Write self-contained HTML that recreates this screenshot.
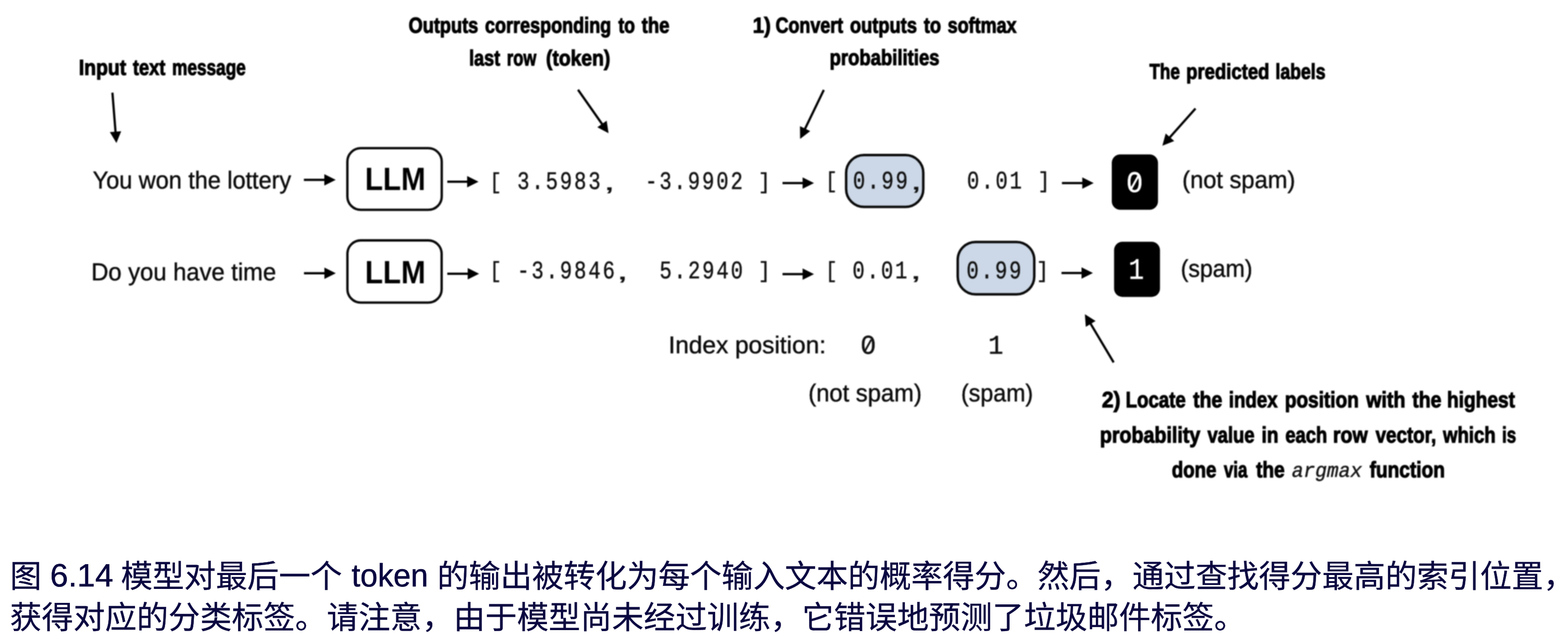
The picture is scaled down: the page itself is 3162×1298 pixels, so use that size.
<!DOCTYPE html>
<html lang="zh"><head><meta charset="utf-8"><title>Figure 6.14</title>
<style>
html,body{margin:0;padding:0;background:#fff;}
body{width:3162px;height:1298px;position:relative;overflow:hidden;color:#000;}
#fig,#cap{position:absolute;left:0;top:0;width:3162px;height:1298px;}
#fig{filter:blur(1.0px);}
#cap{filter:blur(0.45px);}
.t{position:absolute;white-space:pre;line-height:1;transform-origin:0 0;display:block;text-rendering:geometricPrecision;font-kerning:normal;}
.s{font-family:"Liberation Sans",sans-serif;color:#0c0c0c;-webkit-text-stroke:0.7px;}
.b{font-family:"Liberation Sans",sans-serif;font-weight:bold;color:#000;-webkit-text-stroke:1.6px;}
.m{font-family:"Liberation Mono",monospace;color:#111;-webkit-text-stroke:0.7px;}
.mi{font-family:"Liberation Mono",monospace;font-style:italic;}
.cap{margin:0;}
.z{font-family:"Liberation Sans","Noto Sans CJK SC",sans-serif;font-size:64px;color:#0a0740;-webkit-text-stroke:0.38px #0a0740;}
svg{position:absolute;left:0;top:0;}
</style></head><body>
<div id="fig">
<svg width="3162" height="1298" viewBox="0 0 3162 1298">
<line x1="612.8" y1="362.5" x2="656.0" y2="362.5" stroke="#000" stroke-width="4.5"/>
<polygon points="677.0,362.5 654.0,374.0 654.0,351.0" fill="#000"/>
<line x1="902.0" y1="366.2" x2="944.0" y2="366.2" stroke="#000" stroke-width="4.5"/>
<polygon points="965.0,366.2 942.0,377.7 942.0,354.7" fill="#000"/>
<line x1="1578.0" y1="369.1" x2="1620.5" y2="369.1" stroke="#000" stroke-width="4.5"/>
<polygon points="1641.5,369.1 1618.5,380.6 1618.5,357.6" fill="#000"/>
<line x1="2141.5" y1="369.1" x2="2184.5" y2="369.1" stroke="#000" stroke-width="4.5"/>
<polygon points="2205.5,369.1 2182.5,380.6 2182.5,357.6" fill="#000"/>
<line x1="613.0" y1="550.8" x2="656.2" y2="550.8" stroke="#000" stroke-width="4.5"/>
<polygon points="677.2,550.8 654.2,562.3 654.2,539.3" fill="#000"/>
<line x1="902.0" y1="551.8" x2="945.2" y2="551.8" stroke="#000" stroke-width="4.5"/>
<polygon points="966.2,551.8 943.2,563.3 943.2,540.3" fill="#000"/>
<line x1="1578.0" y1="552.4" x2="1620.5" y2="552.4" stroke="#000" stroke-width="4.5"/>
<polygon points="1641.5,552.4 1618.5,563.9 1618.5,540.9" fill="#000"/>
<line x1="2140.6" y1="550.3" x2="2183.0" y2="550.3" stroke="#000" stroke-width="4.5"/>
<polygon points="2204.0,550.3 2181.0,561.8 2181.0,538.8" fill="#000"/>
<line x1="226.7" y1="186.8" x2="233.1" y2="267.4" stroke="#000" stroke-width="4.5"/>
<polygon points="234.8,288.3 221.5,266.3 244.4,264.5" fill="#000"/>
<line x1="1165.6" y1="180.9" x2="1215.1" y2="251.4" stroke="#000" stroke-width="4.5"/>
<polygon points="1227.2,268.6 1204.6,256.4 1223.4,243.2" fill="#000"/>
<line x1="1661.3" y1="181.3" x2="1622.7" y2="261.1" stroke="#000" stroke-width="4.5"/>
<polygon points="1613.5,280.0 1613.2,254.3 1633.9,264.3" fill="#000"/>
<line x1="2410.8" y1="218.8" x2="2358.0" y2="278.0" stroke="#000" stroke-width="4.5"/>
<polygon points="2344.0,293.7 2350.7,268.9 2367.9,284.2" fill="#000"/>
<line x1="2245.8" y1="730.5" x2="2198.5" y2="651.2" stroke="#000" stroke-width="4.5"/>
<polygon points="2187.7,633.2 2209.4,647.1 2189.6,658.8" fill="#000"/>
<rect x="700.5" y="298.7" width="190.3" height="124.2" rx="27" ry="27" fill="#fff" stroke="#0a0a0a" stroke-width="4.8"/>
<rect x="700.6" y="484.5" width="190.0" height="125.4" rx="27" ry="27" fill="#fff" stroke="#0a0a0a" stroke-width="4.8"/>
<rect x="1706.3" y="312.5" width="155.6" height="104.6" rx="36" ry="36" fill="#ccd8e7" stroke="#0a0a0a" stroke-width="5"/>
<rect x="1931.3" y="487.8" width="154.4" height="105.5" rx="36" ry="36" fill="#ccd8e7" stroke="#0a0a0a" stroke-width="5"/>
<rect x="2242.0" y="311.3" width="93.2" height="111.5" rx="17" ry="17" fill="#000"/>
<rect x="2246.6" y="487.3" width="92.6" height="111.1" rx="17" ry="17" fill="#000"/>
</svg>
<span id="t0" class="t b" style="left:158.89px;top:114.80px;font-size:44px;transform:scaleX(0.8882);">Input</span>
<span id="t1" class="t b" style="left:268.15px;top:114.80px;font-size:44px;transform:scaleX(0.8358);">text</span>
<span id="t2" class="t b" style="left:347.11px;top:114.80px;font-size:44px;transform:scaleX(0.7893);">message</span>
<span id="t3" class="t b" style="left:824.40px;top:30.20px;font-size:44px;transform:scaleX(0.8332);">Outputs</span>
<span id="t4" class="t b" style="left:978.18px;top:30.20px;font-size:44px;transform:scaleX(0.8264);">corresponding</span>
<span id="t5" class="t b" style="left:1247.17px;top:30.20px;font-size:44px;transform:scaleX(0.8097);">to</span>
<span id="t6" class="t b" style="left:1294.04px;top:30.20px;font-size:44px;transform:scaleX(0.8490);">the</span>
<span id="t7" class="t b" style="left:946.16px;top:96.00px;font-size:44px;transform:scaleX(0.8253);">last</span>
<span id="t8" class="t b" style="left:1022.29px;top:96.00px;font-size:44px;transform:scaleX(0.7611);">row</span>
<span id="t9" class="t b" style="left:1101.46px;top:96.00px;font-size:44px;transform:scaleX(0.8842);">(token)</span>
<span id="t10" class="t b" style="left:1518.31px;top:30.20px;font-size:44px;transform:scaleX(0.9338);">1)</span>
<span id="t11" class="t b" style="left:1564.22px;top:30.20px;font-size:44px;transform:scaleX(0.8200);">Convert</span>
<span id="t12" class="t b" style="left:1713.76px;top:30.20px;font-size:44px;transform:scaleX(0.8379);">outputs</span>
<span id="t13" class="t b" style="left:1863.15px;top:30.20px;font-size:44px;transform:scaleX(0.8377);">to</span>
<span id="t14" class="t b" style="left:1911.43px;top:30.20px;font-size:44px;transform:scaleX(0.8241);">softmax</span>
<span id="t15" class="t b" style="left:1673.24px;top:95.30px;font-size:44px;transform:scaleX(0.8471);">probabilities</span>
<span id="t16" class="t b" style="left:2318.01px;top:124.45px;font-size:43.5px;transform:scaleX(0.7934);">The</span>
<span id="t17" class="t b" style="left:2392.04px;top:124.45px;font-size:43.5px;transform:scaleX(0.8576);">predicted</span>
<span id="t18" class="t b" style="left:2572.11px;top:124.45px;font-size:43.5px;transform:scaleX(0.8194);">labels</span>
<span id="t19" class="t s" style="left:187.36px;top:338.95px;font-size:49.5px;transform:scaleX(0.9545);">You won the lottery</span>
<span id="t20" class="t b" style="left:735.62px;top:328.10px;font-size:65px;transform:scaleX(0.9154);-webkit-text-stroke:0;">LLM</span>
<span id="t21" class="t m" style="left:987.36px;top:346.20px;font-size:45px;transform:scaleX(0.9144);">[</span>
<span id="t22" class="t m" style="left:1043.01px;top:343.40px;font-size:51px;transform:scaleX(0.8065);letter-spacing:4.98px;">3.5983</span>
<span id="t23" class="t s" style="left:1217.13px;top:340.60px;font-size:50px;transform:scaleX(1.7067);color:#111;-webkit-text-stroke:0.35px;">,</span>
<span id="t24" class="t m" style="left:1301.31px;top:343.40px;font-size:51px;transform:scaleX(0.8065);letter-spacing:4.98px;">-3.9902</span>
<span id="t25" class="t m" style="left:1529.48px;top:346.20px;font-size:45px;transform:scaleX(0.9144);">]</span>
<span id="t26" class="t m" style="left:1664.16px;top:344.40px;font-size:45px;transform:scaleX(0.9144);">[</span>
<span id="t27" class="t m" style="left:1719.91px;top:342.40px;font-size:51px;transform:scaleX(0.8065);letter-spacing:4.98px;">0.99</span>
<span id="t28" class="t s" style="left:1836.32px;top:339.60px;font-size:50px;transform:scaleX(1.6660);color:#111;-webkit-text-stroke:0.35px;">,</span>
<span id="t29" class="t m" style="left:1949.51px;top:342.40px;font-size:51px;transform:scaleX(0.8065);letter-spacing:4.98px;">0.01</span>
<span id="t30" class="t m" style="left:2092.87px;top:344.40px;font-size:45px;transform:scaleX(0.8977);">]</span>
<span id="t31" class="t m" style="left:2271.16px;top:342.40px;font-size:60px;transform:scaleX(0.9480);color:#fff;">0</span>
<span id="t32" class="t s" style="left:2384.24px;top:338.50px;font-size:49px;transform:scaleX(0.9741);">(not spam)</span>
<span id="t33" class="t s" style="left:183.67px;top:524.25px;font-size:49.5px;transform:scaleX(0.9680);">Do you have time</span>
<span id="t34" class="t b" style="left:735.62px;top:516.30px;font-size:65px;transform:scaleX(0.9154);-webkit-text-stroke:0;">LLM</span>
<span id="t35" class="t m" style="left:987.36px;top:524.60px;font-size:45px;transform:scaleX(0.9144);">[</span>
<span id="t36" class="t m" style="left:1043.01px;top:523.30px;font-size:51px;transform:scaleX(0.8065);letter-spacing:4.98px;">-3.9846</span>
<span id="t37" class="t s" style="left:1243.15px;top:520.60px;font-size:50px;transform:scaleX(1.7473);color:#111;-webkit-text-stroke:0.35px;">,</span>
<span id="t38" class="t m" style="left:1330.01px;top:523.30px;font-size:51px;transform:scaleX(0.8065);letter-spacing:4.98px;">5.2940</span>
<span id="t39" class="t m" style="left:1529.48px;top:524.60px;font-size:45px;transform:scaleX(0.9144);">]</span>
<span id="t40" class="t m" style="left:1664.16px;top:524.60px;font-size:45px;transform:scaleX(0.9144);">[</span>
<span id="t41" class="t m" style="left:1718.91px;top:523.00px;font-size:51px;transform:scaleX(0.8065);letter-spacing:4.98px;">0.01</span>
<span id="t42" class="t s" style="left:1835.33px;top:520.20px;font-size:50px;transform:scaleX(1.7067);color:#111;-webkit-text-stroke:0.35px;">,</span>
<span id="t43" class="t m" style="left:1948.51px;top:523.00px;font-size:51px;transform:scaleX(0.8065);letter-spacing:4.98px;">0.99</span>
<span id="t44" class="t m" style="left:2090.43px;top:524.60px;font-size:45px;transform:scaleX(0.9227);">]</span>
<span id="t45" class="t m" style="left:2276.46px;top:517.00px;font-size:60px;transform:scaleX(0.8617);color:#fff;">1</span>
<span id="t46" class="t s" style="left:2381.02px;top:518.20px;font-size:49px;transform:scaleX(0.9488);">(spam)</span>
<span id="t47" class="t s" style="left:1348.15px;top:671.80px;font-size:49px;transform:scaleX(1.0055);">Index position:</span>
<span id="t48" class="t m" style="left:1734.58px;top:673.25px;font-size:54.5px;transform:scaleX(0.9745);">0</span>
<span id="t49" class="t m" style="left:1992.64px;top:673.25px;font-size:54.5px;transform:scaleX(0.9294);">1</span>
<span id="t50" class="t s" style="left:1630.43px;top:768.05px;font-size:49.5px;transform:scaleX(0.9673);">(not spam)</span>
<span id="t51" class="t s" style="left:1937.80px;top:768.05px;font-size:49.5px;transform:scaleX(0.9440);">(spam)</span>
<span id="t52" class="t b" style="left:2221.53px;top:783.00px;font-size:45px;transform:scaleX(0.9416);">2)</span>
<span id="t53" class="t b" style="left:2270.38px;top:783.00px;font-size:45px;transform:scaleX(0.8356);">Locate</span>
<span id="t54" class="t b" style="left:2405.62px;top:783.00px;font-size:45px;transform:scaleX(0.8729);">the</span>
<span id="t55" class="t b" style="left:2478.47px;top:783.00px;font-size:45px;transform:scaleX(0.8372);">index</span>
<span id="t56" class="t b" style="left:2590.97px;top:783.00px;font-size:45px;transform:scaleX(0.8522);">position</span>
<span id="t57" class="t b" style="left:2754.62px;top:783.00px;font-size:45px;transform:scaleX(0.8795);">with</span>
<span id="t58" class="t b" style="left:2847.72px;top:783.00px;font-size:45px;transform:scaleX(0.8714);">the</span>
<span id="t59" class="t b" style="left:2918.41px;top:783.00px;font-size:45px;transform:scaleX(0.8572);">highest</span>
<span id="t60" class="t b" style="left:2218.29px;top:853.80px;font-size:45px;transform:scaleX(0.8800);">probability</span>
<span id="t61" class="t b" style="left:2435.16px;top:853.80px;font-size:45px;transform:scaleX(0.8239);">value</span>
<span id="t62" class="t b" style="left:2543.93px;top:853.80px;font-size:45px;transform:scaleX(0.8513);">in</span>
<span id="t63" class="t b" style="left:2592.05px;top:853.80px;font-size:45px;transform:scaleX(0.8232);">each</span>
<span id="t64" class="t b" style="left:2688.40px;top:853.80px;font-size:45px;transform:scaleX(0.8751);">row</span>
<span id="t65" class="t b" style="left:2774.15px;top:853.80px;font-size:45px;transform:scaleX(0.8421);">vector,</span>
<span id="t66" class="t b" style="left:2909.71px;top:853.80px;font-size:45px;transform:scaleX(0.8322);">which</span>
<span id="t67" class="t b" style="left:3029.02px;top:853.80px;font-size:45px;transform:scaleX(0.7590);">is</span>
<span id="t68" class="t b" style="left:2362.95px;top:924.30px;font-size:45px;transform:scaleX(0.8375);">done</span>
<span id="t69" class="t b" style="left:2468.47px;top:924.30px;font-size:45px;transform:scaleX(0.7595);">via</span>
<span id="t70" class="t b" style="left:2532.63px;top:924.30px;font-size:45px;transform:scaleX(0.8561);">the</span>
<span id="t71" class="t mi" style="left:2604.60px;top:930.90px;font-size:41px;transform:scaleX(0.9597);color:#161616;-webkit-text-stroke:0.8px;">argmax</span>
<span id="t72" class="t b" style="left:2762.14px;top:924.30px;font-size:45px;transform:scaleX(0.8551);">function</span>
<svg width="3162" height="1298" viewBox="0 0 3162 1298">
<ellipse cx="1750.3" cy="696.3" rx="6.6" ry="8.0" fill="#fff"/>
<line x1="1744.2" y1="707.6" x2="1756.9" y2="684.6" stroke="#111" stroke-width="3.8" stroke-linecap="butt"/>
<ellipse cx="2288.2" cy="368.0" rx="7.0" ry="8.8" fill="#000"/>
<line x1="2280.6" y1="381.4" x2="2295.8" y2="354.2" stroke="#fff" stroke-width="4.2" stroke-linecap="butt"/>
</svg>
</div>
<div id="cap">
<p class="cap" lang="zh-CN"><span class="t z" style="left:20.0px;top:1130.1px;letter-spacing:-0.10px;">图</span>
<span id="t73" class="t s" style="left:100.88px;top:1127.00px;font-size:65px;transform:scaleX(1.0065);color:#0a0740;">6.14</span>
<span class="t z" style="left:243.7px;top:1130.1px;letter-spacing:-0.27px;">模型对最后一个</span>
<span id="t74" class="t s" style="left:708.64px;top:1127.00px;font-size:65px;transform:scaleX(0.9713);color:#0a0740;">token</span>
<span class="t z" style="left:881.5px;top:1130.1px;letter-spacing:-0.27px;">的输出被转化为每个输入文本的概率得分。然后，通过查找得分最高的索引位置，</span>
<span class="t z" style="left:20.0px;top:1212.5px;letter-spacing:-0.10px;">获得对应的分类标签。请注意，由于模型尚未经过训练，它错误地预测了垃圾邮件标签。</span></p>
</div>
</body></html>
